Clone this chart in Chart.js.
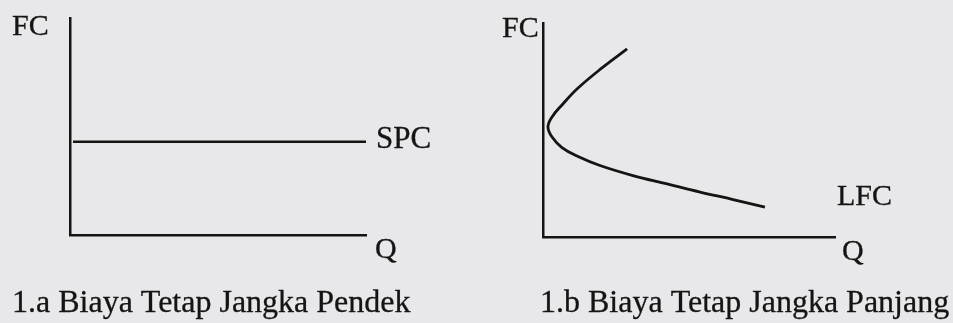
<!DOCTYPE html>
<html>
<head>
<meta charset="utf-8">
<script src="https://cdn.jsdelivr.net/npm/chart.js@4.4.0/dist/chart.umd.min.js"></script>
<style>
  html, body { margin: 0; padding: 0; background: #e8e8ea; }
  #wrap { position: relative; width: 953px; height: 323px; overflow: hidden; }
  canvas { position: absolute; top: 0; }
</style>
</head>
<body>
<div id="wrap">
  <canvas id="grafikPendek" width="476" height="323" style="left:0"></canvas>
  <canvas id="grafikPanjang" width="477" height="323" style="left:476px"></canvas>
</div>
<script>
// Data (skala 0-10 pada kedua sumbu)
const spcQ = [0.1, 10];
const spcFC = [4.3, 4.3];

const lfcQ = [2.88, 2.02, 1.20, 0.65, 0.31, 0.17, 0.31, 0.65, 1.20, 1.95, 3.08, 4.25, 5.38, 6.51, 7.60];
const lfcFC = [8.79, 7.90, 6.96, 6.17, 5.61, 5.14, 4.67, 4.18, 3.76, 3.34, 2.87, 2.48, 2.10, 1.75, 1.40];

const judulKiri = "1.a Biaya Tetap Jangka Pendek";
const judulKanan = "1.b Biaya Tetap Jangka Panjang";

const warna = "#141414";
const huruf = '"Liberation Serif", "Times New Roman", serif';

function titik(xs, ys) {
    return xs.map((x, i) => ({ x: x, y: ys[i] }));
}

// Plugin untuk menulis label sumbu, nama kurva dan judul
const pluginLabel = {
    id: "labelTeks",
    afterDraw(chart, args, opts) {
        const ctx = chart.ctx;
        const a = chart.chartArea;
        ctx.save();
        ctx.fillStyle = warna;
        ctx.strokeStyle = warna;
        ctx.lineWidth = 0.3;
        ctx.textBaseline = "alphabetic";
        opts.items.forEach(it => {
            const p = it.pos(a, chart.scales);
            ctx.font = it.size + "px " + huruf;
            ctx.fillText(it.text, p[0], p[1]);
            ctx.strokeText(it.text, p[0], p[1]);
        });
        ctx.restore();
    }
};

function sumbu(tipe) {
    return {
        type: "linear",
        min: 0,
        max: 10,
        grid: { display: false, drawTicks: false },
        ticks: { display: false },
        border: { display: true, color: warna, width: 2.5 },
        afterFit: function (scale) {
            if (tipe === "x") scale.height = 0; else scale.width = 0;
        }
    };
}

function buatGrafik(canvasId, dataset, padding, items) {
    const ctx = document.getElementById(canvasId).getContext("2d");
    return new Chart(ctx, {
        type: "scatter",
        data: { datasets: [dataset] },
        options: {
            responsive: false,
            animation: false,
            devicePixelRatio: 1,
            layout: { padding: padding },
            scales: { x: sumbu("x"), y: sumbu("y") },
            plugins: {
                legend: { display: false },
                tooltip: { enabled: false },
                labelTeks: { items: items }
            }
        },
        plugins: [pluginLabel]
    });
}

buatGrafik("grafikPendek", {
    label: "SPC",
    data: titik(spcQ, spcFC),
    showLine: true,
    borderColor: warna,
    borderWidth: 2.5,
    pointRadius: 0,
    clip: false
}, { left: 70, right: 110, top: 18, bottom: 88 }, [
    { text: "FC", size: 30, pos: (a) => [a.left - 58, a.top + 17] },
    { text: "SPC", size: 31, pos: (a, s) => [s.x.getPixelForValue(spcQ[spcQ.length - 1]) + 10, s.y.getPixelForValue(spcFC[spcFC.length - 1]) + 6] },
    { text: "Q", size: 30, pos: (a) => [a.right + 9, a.bottom + 23] },
    { text: judulKiri, size: 32, pos: (a) => [a.left - 58, a.bottom + 77] }
]);

buatGrafik("grafikPanjang", {
    label: "LFC",
    data: titik(lfcQ, lfcFC),
    showLine: true,
    borderColor: warna,
    borderWidth: 2.8,
    tension: 0.4,
    pointRadius: 0,
    clip: false
}, { left: 67, right: 118, top: 23, bottom: 86 }, [
    { text: "FC", size: 30, pos: (a) => [a.left - 41, a.top + 14] },
    { text: "LFC", size: 30, pos: (a) => [a.right + 2, a.bottom - 32] },
    { text: "Q", size: 30, pos: (a) => [a.right + 7, a.bottom + 23] },
    { text: judulKanan, size: 32, pos: (a) => [a.left - 3, a.bottom + 75] }
]);
</script>
</body>
</html>
